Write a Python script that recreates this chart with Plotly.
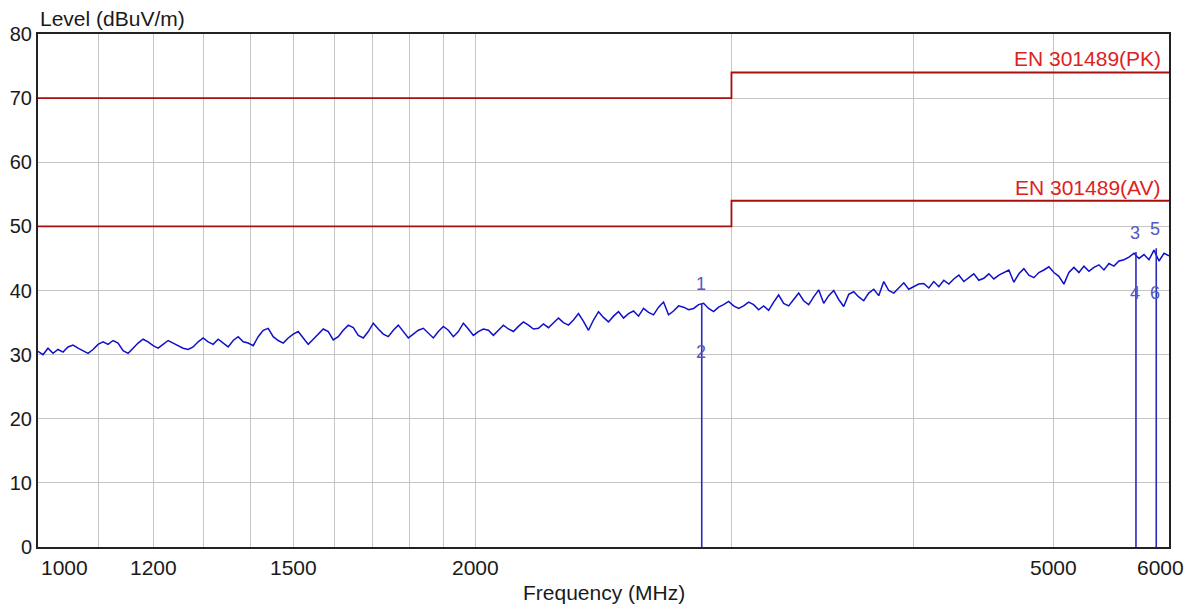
import numpy as np
import plotly.graph_objects as go

# ---------------- data ----------------
FREQ_START = 1000.0
FREQ_STOP = 6000.0

levels = [
    30.5, 30.0, 31.0, 30.2, 30.8, 30.4, 31.2,
    31.5, 31.0, 30.6, 30.2, 30.8, 31.6, 32.0,
    31.6, 32.2, 31.8, 30.6, 30.2, 31.0, 31.8,
    32.4, 32.0, 31.4, 31.0, 31.6, 32.2, 31.8,
    31.4, 31.0, 30.8, 31.2, 32.0, 32.6, 32.0,
    31.6, 32.4, 31.8, 31.2, 32.2, 32.8, 32.0,
    31.8, 31.4, 32.8, 33.8, 34.1, 32.8, 32.2,
    31.8, 32.6, 33.2, 33.6, 32.6, 31.6, 32.4,
    33.2, 34.0, 33.6, 32.3, 32.8, 33.8, 34.6,
    34.2, 33.0, 32.6, 33.6, 34.9, 34.0, 33.2,
    32.8, 33.8, 34.6, 33.6, 32.6, 33.2, 33.8,
    34.1, 33.4, 32.6, 33.6, 34.4, 33.8, 32.8,
    33.6, 34.9, 34.0, 33.0, 33.6, 34.0, 33.8,
    33.0, 33.8, 34.6, 34.0, 33.6, 34.4, 35.1,
    34.6, 34.0, 34.1, 34.8, 34.2, 35.0, 35.7,
    35.0, 34.6, 35.4, 36.4, 35.2, 33.8, 35.4,
    36.7, 35.8, 35.1, 36.0, 36.7, 35.7, 36.4,
    36.8, 36.0, 37.2, 36.6, 36.2, 37.4, 38.2,
    36.2, 36.8, 37.6, 37.4, 37.0, 37.2, 37.8,
    38.0, 37.2, 36.7, 37.4, 37.8, 38.3, 37.6,
    37.2, 37.6, 38.2, 37.8, 37.0, 37.6, 36.9,
    38.2, 39.3, 38.0, 37.6, 38.6, 39.6, 38.4,
    37.8, 39.0, 40.1, 38.0, 39.2, 40.0, 38.6,
    37.5, 39.4, 39.8, 39.0, 38.4, 39.6, 40.2,
    39.2, 41.4, 40.0, 39.6, 40.4, 41.2, 40.2,
    40.6, 41.0, 41.1, 40.4, 41.4, 40.6, 41.6,
    41.0, 41.8, 42.4, 41.4, 42.0, 42.6, 41.6,
    41.9, 42.6, 41.8, 42.4, 42.8, 43.2, 41.3,
    42.6, 43.4, 42.4, 42.0, 42.8, 43.2, 43.7,
    42.8, 42.2, 41.0, 42.8, 43.6, 42.8, 43.8,
    43.0, 43.6, 44.0, 43.2, 44.2, 43.8, 44.6,
    44.8, 45.2, 45.8, 45.0, 45.6, 44.8, 46.3,
    44.6, 45.8, 45.4,
]

# limit lines
limit_freq = [1000, 3000, 3000, 6000]
pk_limit = [70, 70, 74, 74]
av_limit = [50, 50, 54, 54]
pk_name = "EN 301489(PK)"
av_name = "EN 301489(AV)"

# markers
marker_labels = ["1", "2", "3", "4", "5", "6"]
marker_freq = [2862, 2862, 5694, 5694, 5880, 5880]
marker_level = [38.0, 27.5, 46.0, 36.7, 46.6, 36.7]

# axis ticks
grid_freqs = [1100, 1200, 1300, 1400, 1500, 1600, 1700, 1800, 1900, 2000, 3000, 4000, 5000]
tick_freqs = [1000, 1200, 1500, 2000, 5000, 6000]
tick_text = ["1000", "1200", "1500", "2000", "5000", "6000"]
y_ticks = [0, 10, 20, 30, 40, 50, 60, 70, 80]

freqs = np.geomspace(FREQ_START, FREQ_STOP, len(levels))

FONT = "Liberation Sans, Arial, sans-serif"
TRACE_BLUE = "#1010c8"
LIMIT_RED = "#a80f0f"
LABEL_RED = "#dd2222"
MARK_BLUE = "#2a2ab8"
MARK_TEXT = "#5656c8"
TEXT = "#1a1a1a"

fig = go.Figure()

fig.add_trace(go.Scatter(x=limit_freq, y=pk_limit, mode="lines",
                         line=dict(color=LIMIT_RED, width=1.8), hoverinfo="skip"))
fig.add_trace(go.Scatter(x=limit_freq, y=av_limit, mode="lines",
                         line=dict(color=LIMIT_RED, width=1.8), hoverinfo="skip"))

fig.add_trace(go.Scatter(x=freqs, y=levels, mode="lines",
                         line=dict(color=TRACE_BLUE, width=1.5)))

# marker vertical lines from 0 to the highest marker level at each frequency
mx, my = [], []
seen = {}
for f, v in zip(marker_freq, marker_level):
    seen[f] = max(seen.get(f, v), v)
for f, v in seen.items():
    mx += [f, f, None]
    my += [0, v, None]
fig.add_trace(go.Scatter(x=mx, y=my, mode="lines",
                         line=dict(color=MARK_BLUE, width=1.6), hoverinfo="skip"))

annotations = []
for lab, f, v in zip(marker_labels, marker_freq, marker_level):
    annotations.append(dict(x=np.log10(f), y=v, xref="x", yref="y", text=lab,
                            showarrow=False, yshift=19, xshift=-1,
                            font=dict(family=FONT, size=18, color=MARK_TEXT)))

# limit labels
annotations.append(dict(x=np.log10(limit_freq[-1]), y=pk_limit[-1], xref="x", yref="y",
                        text=pk_name, showarrow=False, xanchor="right", yanchor="bottom",
                        xshift=-6, yshift=0,
                        font=dict(family=FONT, size=21, color=LABEL_RED)))
annotations.append(dict(x=np.log10(limit_freq[-1]), y=av_limit[-1], xref="x", yref="y",
                        text=av_name, showarrow=False, xanchor="right", yanchor="bottom",
                        xshift=-6, yshift=0,
                        font=dict(family=FONT, size=21, color=LABEL_RED)))

# x tick labels
for f, t in zip(tick_freqs, tick_text):
    xa, xs = "center", 0
    if f == tick_freqs[0]:
        xa, xs = "left", 1
    elif f == tick_freqs[-1]:
        xs = -9
    annotations.append(dict(x=np.log10(f), y=0, xref="x", yref="paper", text=t,
                            showarrow=False, xanchor=xa, yanchor="middle",
                            xshift=xs, yshift=-20,
                            font=dict(family=FONT, size=21, color=TEXT)))

# axis titles
annotations.append(dict(x=0, y=1, xref="paper", yref="paper", text="Level (dBuV/m)",
                        showarrow=False, xanchor="left", yanchor="middle", yshift=16,
                        font=dict(family=FONT, size=21, color=TEXT)))
annotations.append(dict(x=0.5, y=0, xref="paper", yref="paper", text="Frequency (MHz)",
                        showarrow=False, xanchor="center", yanchor="middle", yshift=-45,
                        font=dict(family=FONT, size=21, color=TEXT)))

fig.update_layout(
    width=1188, height=599,
    margin=dict(l=30, r=27, t=26, b=60, autoexpand=False),
    paper_bgcolor="white", plot_bgcolor="white",
    showlegend=False,
    annotations=annotations,
    font=dict(family=FONT, size=21, color=TEXT),
)
fig.update_xaxes(type="log", range=[np.log10(FREQ_START), np.log10(FREQ_STOP)],
                 tickvals=grid_freqs, showticklabels=False, ticks="",
                 showgrid=True, gridcolor="#c6c6c6", gridwidth=1,
                 showline=True, mirror=True, linecolor="#222222", linewidth=2,
                 zeroline=False, automargin=False)
fig.update_yaxes(range=[0, 80], tickvals=y_ticks, ticks="",
                 showgrid=True, gridcolor="#c6c6c6", gridwidth=1,
                 showline=True, mirror=True, linecolor="#222222", linewidth=2,
                 zeroline=False, ticklabelstandoff=0, automargin=False,
                 tickfont=dict(family=FONT, size=20, color=TEXT))

fig.write_html("out.html")
